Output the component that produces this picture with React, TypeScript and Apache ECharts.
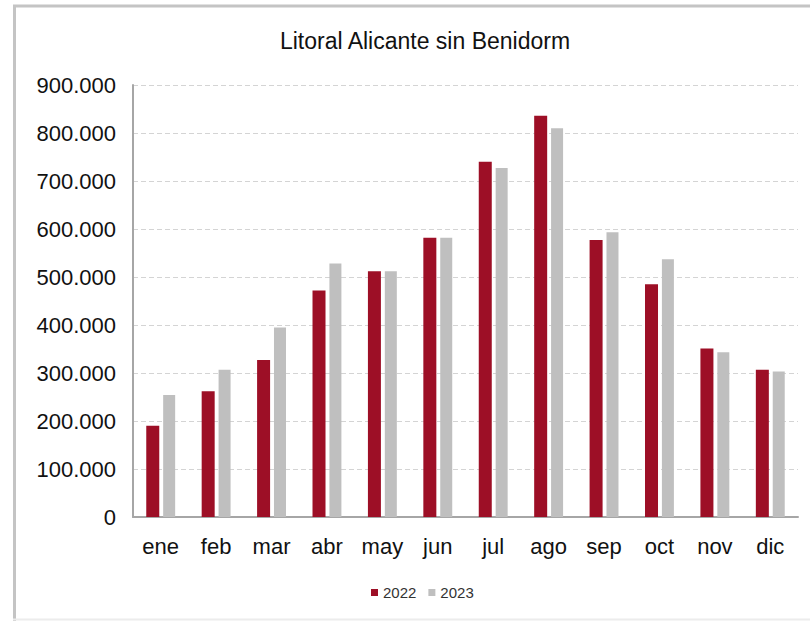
import React, { useEffect, useRef } from "react";
import * as echarts from "echarts";

const categories = ["ene", "feb", "mar", "abr", "may", "jun", "jul", "ago", "sep", "oct", "nov", "dic"];
const values2022 = [190000, 262000, 327000, 472000, 512000, 582000, 740000, 836000, 577000, 485000, 351000, 307000];
const values2023 = [254000, 307000, 395000, 528000, 512000, 582000, 727000, 810000, 593000, 537000, 343000, 303000];
const yTicks = [0, 100000, 200000, 300000, 400000, 500000, 600000, 700000, 800000, 900000];

const fmt = (v: number) => (v === 0 ? "0" : (v / 1000).toFixed(0) + ".000");

export default function App() {
  const ref = useRef<HTMLDivElement>(null);
  useEffect(() => {
    document.body.style.margin = "0";
    const chart = echarts.init(ref.current!, undefined, { renderer: "svg" });
    const font = "Liberation Sans, Arial, sans-serif";
    chart.setOption({
      animation: false,
      backgroundColor: "#ffffff",
      title: {
        text: "Litoral Alicante sin Benidorm",
        left: 420,
        top: 24,
        textAlign: "center",
        textStyle: { fontFamily: font, fontSize: 23, fontWeight: "normal", color: "#111" },
      },
      legend: {
        data: ["2022", "2023"],
        left: 371,
        top: 585,
        padding: 0,
        itemWidth: 7,
        itemHeight: 7,
        itemGap: 12,
        icon: "rect",
        textStyle: { fontFamily: font, fontSize: 15, color: "#333" },
      },
      grid: { left: 133, right: 12, top: 85, bottom: 104, containLabel: false },
      xAxis: {
        type: "category",
        data: categories,
        axisLine: { lineStyle: { color: "#a6a6a6", width: 2 } },
        axisTick: { show: false },
        axisLabel: { fontFamily: font, fontSize: 22, color: "#111", margin: 18 },
      },
      yAxis: {
        type: "value",
        min: yTicks[0],
        max: yTicks[yTicks.length - 1],
        interval: 100000,
        axisLine: { show: true, lineStyle: { color: "#a6a6a6", width: 2 } },
        axisTick: { show: false },
        axisLabel: { fontFamily: font, fontSize: 22, color: "#111", margin: 17, formatter: fmt },
        splitLine: { show: true, lineStyle: { color: "#d4d4d4", type: [5, 3], width: 1 } },
      },
      series: [
        {
          name: "2022",
          type: "bar",
          data: values2022,
          barWidth: 13,
          barGap: "30%",
          itemStyle: { color: "#9d0f26" },
        },
        {
          name: "2023",
          type: "bar",
          data: values2023,
          barWidth: 12,
          itemStyle: { color: "#bfbfbf" },
        },
      ],
      graphic: [
        { type: "line", shape: { x1: 14.5, y1: 5, x2: 14.5, y2: 621 }, style: { stroke: "#c4c4c4", lineWidth: 3 } },
        { type: "line", shape: { x1: 13, y1: 6, x2: 810, y2: 6 }, style: { stroke: "#c4c4c4", lineWidth: 3 } },
        { type: "line", shape: { x1: 13, y1: 619.5, x2: 810, y2: 619.5 }, style: { stroke: "#ececec", lineWidth: 2 } },
      ],
    });
    return () => chart.dispose();
  }, []);
  return <div ref={ref} style={{ width: 810, height: 621 }} />;
}
